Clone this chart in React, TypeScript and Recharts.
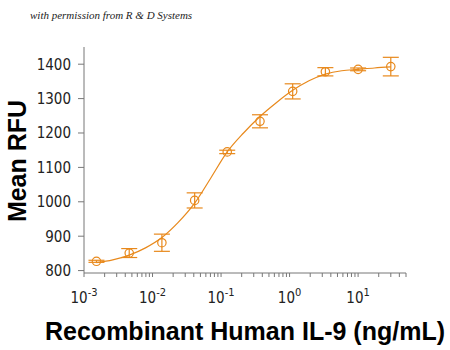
import { ComposedChart, ErrorBar, Line, Scatter, XAxis, YAxis } from "recharts";

// 3-fold dilution series, ng/mL
const CONC = [0.00152, 0.00457, 0.0137, 0.0412, 0.123, 0.37, 1.11, 3.33, 10, 30];
const MEAN_RFU = [827, 851, 881, 1004, 1145, 1234, 1321, 1378, 1385, 1393];
const SD_RFU = [3, 13, 25, 22, 5, 19, 22, 12, 4, 27];
// fitted curve
const FIT_CONC = [
  0.00152, 0.00263, 0.00457, 0.0079, 0.0137, 0.0237, 0.0412, 0.0713, 0.123, 0.213, 0.37,
  0.64, 1.11, 1.92, 3.33, 5.77, 10, 17.3, 30,
];
const FIT_RFU = [
  823, 831, 845, 866, 896, 940, 996, 1070, 1145, 1200, 1248, 1288, 1324, 1352, 1371, 1381,
  1385, 1389, 1392,
];

const Y_TICKS = [800, 900, 1000, 1100, 1200, 1300, 1400];
const DECADES = [-3, -2, -1, 0, 1];
const X_MAX = 50;

const ORANGE = "#E8891C";
const AXIS = "#777";
const NARROW = '"Liberation Sans Narrow", "DejaVu Sans Condensed", sans-serif';

const points = CONC.map((x, i) => ({ x, y: MEAN_RFU[i], err: SD_RFU[i] }));
const fit = FIT_CONC.map((x, i) => ({ x, y: FIT_RFU[i] }));

// log axis ticks: 1..9 per decade
const xTicks: number[] = [];
DECADES.forEach((d) => {
  for (let m = 1; m <= 9; m++) {
    const v = m * Math.pow(10, d);
    if (v <= X_MAX) xTicks.push(v);
  }
});

function XTick({ x, payload }: { x?: number; payload?: { value: number } }) {
  const v = payload?.value ?? 0;
  const e = Math.round(Math.log10(v));
  if (Math.abs(Math.log10(v) - e) > 1e-6) return null;
  return (
    <text x={x} y={303} textAnchor="middle" fill="#222" fontFamily={NARROW} fontSize={15}>
      10
      <tspan dy={-7} fontSize={11}>
        {e}
      </tspan>
    </text>
  );
}

function Dot({ cx, cy }: { cx?: number; cy?: number }) {
  return <circle cx={cx} cy={cy} r={4.2} fill="none" stroke={ORANGE} strokeWidth={1.2} />;
}

export default function App() {
  return (
    <div style={{ position: "absolute", left: 0, top: 0, width: 450, height: 350, background: "#fff" }}>
      <div
        style={{
          position: "absolute",
          left: 30,
          top: 9,
          fontFamily: '"Liberation Serif", serif',
          fontStyle: "italic",
          fontSize: 11,
          color: "#222",
          whiteSpace: "nowrap",
        }}
      >
        with permission from R &amp; D Systems
      </div>
      <ComposedChart width={450} height={350} margin={{ top: 47, right: 44, bottom: 0, left: 0 }}>
        <XAxis
          type="number"
          dataKey="x"
          scale="log"
          domain={[0.001, X_MAX]}
          allowDataOverflow
          ticks={xTicks}
          interval={0}
          height={77}
          tick={<XTick />}
          tickSize={4}
          tickLine={{ stroke: AXIS }}
          axisLine={{ stroke: AXIS }}
          label={{
            content: () => (
              <text
                x={245}
                y={340}
                textAnchor="middle"
                fontFamily='"Liberation Sans", Arial, sans-serif'
                fontWeight="bold"
                fontSize={25}
                fill="#000"
              >
                Recombinant Human IL-9 (ng/mL)
              </text>
            ),
          }}
        />
        <YAxis
          type="number"
          dataKey="y"
          domain={[793, 1450]}
          ticks={Y_TICKS}
          interval={0}
          width={84}
          tickSize={6}
          tickMargin={7}
          tick={{ fill: "#222", fontSize: 15, fontFamily: NARROW }}
          tickLine={{ stroke: AXIS }}
          axisLine={{ stroke: AXIS }}
          label={{
            content: () => (
              <text
                x={26}
                y={161}
                transform="rotate(-90 26 161)"
                textAnchor="middle"
                fontFamily='"Liberation Sans", Arial, sans-serif'
                fontWeight="bold"
                fontSize={25}
                fill="#000"
              >
                Mean RFU
              </text>
            ),
          }}
        />
        <Line
          data={fit}
          dataKey="y"
          type="monotone"
          stroke={ORANGE}
          strokeWidth={1.2}
          dot={false}
          activeDot={false}
          isAnimationActive={false}
        />
        <Scatter data={points} dataKey="y" shape={<Dot />} isAnimationActive={false}>
          <ErrorBar dataKey="err" direction="y" width={8} stroke={ORANGE} strokeWidth={1.2} />
        </Scatter>
      </ComposedChart>
    </div>
  );
}
